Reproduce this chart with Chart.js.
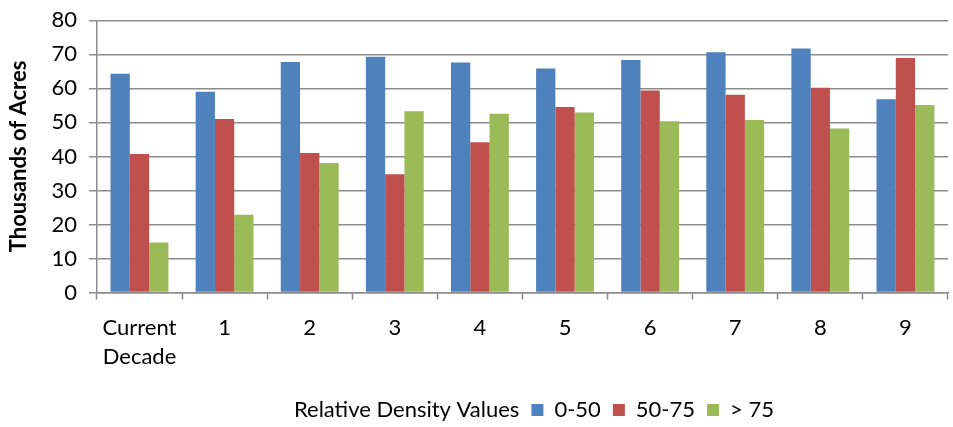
<!DOCTYPE html>
<html>
<head>
<meta charset="utf-8">
<script src="https://cdn.jsdelivr.net/npm/chart.js@4.4.0/dist/chart.umd.min.js"></script>
<style>
  html, body { margin: 0; padding: 0; background: #fff; }
  #wrap { width: 953px; height: 427px; }
</style>
</head>
<body>
<div id="wrap"><canvas id="chart"></canvas></div>
<script>
// decades
const decades = [['Current', 'Decade'], '1', '2', '3', '4', '5', '6', '7', '8', '9'];

// relative density classes, thousands of acres
const low = [64.3, 59.0, 67.7, 69.3, 67.6, 65.8, 68.3, 70.6, 71.7, 56.8];
const mid = [40.7, 51.0, 41.0, 34.8, 44.2, 54.5, 59.4, 58.1, 60.2, 68.9];
const high = [14.7, 22.9, 38.1, 53.3, 52.5, 52.9, 50.3, 50.7, 48.2, 55.1];

const seriesNames = ['0-50', '50-75', '> 75'];
const legendTitle = 'Relative Density Values';
const yTicks = [0, 10, 20, 30, 40, 50, 60, 70, 80];

const palette = ['#4F81BD', '#C0504D', '#9BBB59'];
const gridColor = '#8C8C8C';
const font = 'Lato';

const ctx = document.getElementById('chart');

new Chart(ctx, {
  type: 'bar',
  data: {
    labels: decades,
    datasets: [low, mid, high].map((values, i) => ({
      label: seriesNames[i],
      data: values,
      backgroundColor: palette[i],
      borderWidth: 0,
      barPercentage: 1,
      categoryPercentage: 0.68
    }))
  },
  options: {
    responsive: true,
    maintainAspectRatio: false,
    animation: false,
    layout: { padding: { top: 0, right: 5, left: 6, bottom: -4 } },
    plugins: {
      tooltip: { enabled: false },
      legend: {
        position: 'bottom',
        fullSize: false,
        labels: {
          font: { family: font, size: 22 },
          color: '#000',
          boxWidth: 12,
          boxHeight: 12,
          padding: 12,
          // title sits inline, in front of the series keys
          generateLabels(chart) {
            const items = Chart.defaults.plugins.legend.labels.generateLabels(chart);
            items.forEach(it => { it.lineWidth = 0; });
            items.unshift({
              text: legendTitle,
              fillStyle: 'rgba(0,0,0,0)',
              strokeStyle: 'rgba(0,0,0,0)',
              lineWidth: 0,
              hidden: false,
              datasetIndex: -1
            });
            return items;
          }
        }
      }
    },
    scales: {
      x: {
        afterFit(axis) {
          axis.height += 2;
        },
        grid: {
          display: true,
          offset: true,
          drawOnChartArea: false,
          drawTicks: true,
          tickLength: 7,
          tickWidth: 1.5,
          tickColor: gridColor
        },
        border: { color: gridColor, width: 1.5 },
        ticks: {
          font: { family: font, size: 22, lineHeight: 1.35 },
          color: '#000',
          maxRotation: 0,
          padding: 13
        }
      },
      y: {
        min: 0,
        max: 80,
        afterBuildTicks(axis) {
          axis.ticks = yTicks.map(v => ({ value: v }));
        },
        title: {
          display: true,
          text: 'Thousands of Acres',
          font: { family: font, size: 22, weight: 'bold' },
          color: '#000',
          padding: { top: 0, bottom: 7 }
        },
        grid: {
          color: gridColor,
          lineWidth: 1.5,
          tickLength: 8
        },
        border: { color: gridColor, width: 1.5 },
        ticks: {
          font: { family: font, size: 22, lineHeight: 0.75 },
          color: '#000',
          padding: 12
        }
      }
    }
  }
});
</script>
</body>
</html>
